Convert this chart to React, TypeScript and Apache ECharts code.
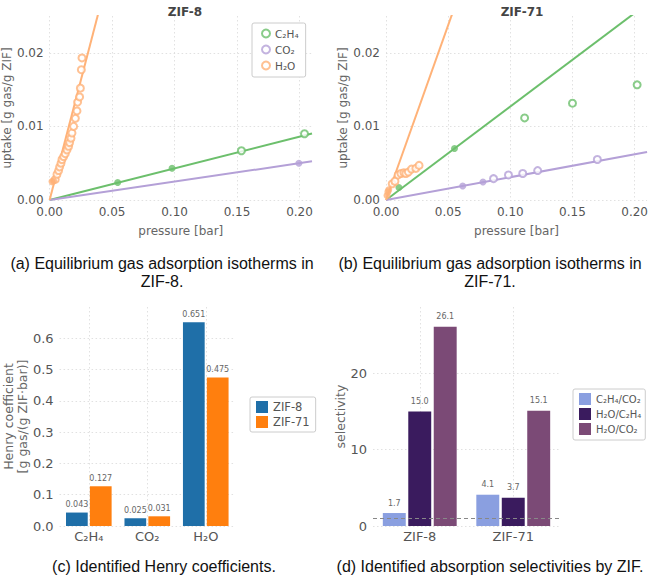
import React, { useEffect, useRef } from "react";
import * as echarts from "echarts";

// ---------- data ----------
const gases = ["C₂H₄", "CO₂", "H₂O"];
const henryZIF8 = [0.043, 0.025, 0.651];
const henryZIF71 = [0.127, 0.031, 0.475];

const pressureMax = 0.21;

// ZIF-8 isotherm points [pressure bar, uptake g/g]
const zif8C2H4Fit = [[0.0545, 0.00237], [0.098, 0.00432]];
const zif8C2H4Other = [[0.1535, 0.00669], [0.204, 0.009]];
const zif8CO2Fit = [[0.1995, 0.005]];
const zif8CO2Other: number[][] = [];
const zif8H2OFit = [[0.0019, 0.0025], [0.0032, 0.0026]];
const zif8H2OOther = [
  [0.0045, 0.0028], [0.0059, 0.0035], [0.0072, 0.004], [0.008, 0.0045],
  [0.0091, 0.005], [0.0099, 0.0055], [0.0112, 0.0059], [0.0125, 0.0063],
  [0.0139, 0.0068], [0.0152, 0.0073], [0.016, 0.0078], [0.0171, 0.0084],
  [0.0179, 0.0091], [0.0192, 0.01], [0.0206, 0.0111], [0.0219, 0.0121],
  [0.0224, 0.0133], [0.024, 0.014], [0.0246, 0.0152], [0.0254, 0.0177],
  [0.0259, 0.0193],
];

// ZIF-71 isotherm points
const zif71C2H4Fit = [[0.0104, 0.0017], [0.0551, 0.007]];
const zif71C2H4Other = [[0.1115, 0.01115], [0.15, 0.01315], [0.202, 0.01565]];
const zif71CO2Fit = [[0.0617, 0.0019], [0.078, 0.00245]];
const zif71CO2Other = [
  [0.0865, 0.0029], [0.0985, 0.0034], [0.11, 0.0036], [0.122, 0.004], [0.17, 0.0055],
];
const zif71H2OFit = [[0.0008, 0.0006], [0.0015, 0.0011], [0.0022, 0.0014]];
const zif71H2OOther = [
  [0.005, 0.0022], [0.0072, 0.00255], [0.0098, 0.0034], [0.012, 0.0036],
  [0.0144, 0.0037], [0.016, 0.0036], [0.018, 0.0038], [0.0205, 0.0042],
  [0.024, 0.0043], [0.0266, 0.0047],
];

const zifs = ["ZIF-8", "ZIF-71"];
const selC2H4CO2 = [1.7, 4.1];
const selH2OC2H4 = [15.0, 3.7];
const selH2OCO2 = [26.1, 15.1];
const selNames = ["C₂H₄/CO₂", "H₂O/C₂H₄", "H₂O/CO₂"];

const pressureTicks = ["0.00", "0.05", "0.10", "0.15", "0.20"];
const uptakeTicks = ["0.00", "0.01", "0.02"];

// ---------- style ----------
const gasColors = ["#6cbf6c", "#b4a0d7", "#ffb278"];
const zifColors = ["#1f6fa8", "#ff7f0e"];
const selColors = ["#8a9fe0", "#3a1b5e", "#7b4a76"];
const FONT = "DejaVu Sans";
const CAPFONT = "16px 'Liberation Sans'";
const gridLine = { type: [1.5, 2.5], color: "#d9d9d9", width: 0.8 };

function isoAxes(gridIndex: number) {
  const x = {
    gridIndex,
    type: "value",
    min: 0,
    max: pressureMax,
    interval: 0.05,
    axisLine: { show: false },
    axisTick: { show: false },
    axisLabel: {
      color: "#555",
      fontSize: 12,
      fontFamily: FONT,
      margin: 6,
      showMaxLabel: false,
      formatter: (v: number) => {
        const i = Math.round(v / 0.05);
        return Math.abs(v - i * 0.05) < 1e-9 ? pressureTicks[i] ?? "" : "";
      },
    },
    splitLine: { show: true, showMaxLine: false, lineStyle: gridLine },
    name: "pressure [bar]",
    nameLocation: "middle",
    nameGap: 25,
    nameTextStyle: { color: "#666", fontSize: 12, fontFamily: FONT },
  };
  const y = {
    gridIndex,
    type: "value",
    min: 0,
    max: 0.025,
    interval: 0.01,
    axisLine: { show: false },
    axisTick: { show: false },
    axisLabel: {
      color: "#555",
      fontSize: 12,
      fontFamily: FONT,
      margin: 6,
      showMaxLabel: false,
      formatter: (v: number) => {
        const i = Math.round(v / 0.01);
        return Math.abs(v - i * 0.01) < 1e-9 ? uptakeTicks[i] ?? "" : "";
      },
    },
    splitLine: { show: true, showMaxLine: false, lineStyle: gridLine },
    name: "uptake [g gas/g ZIF]",
    nameLocation: "middle",
    nameGap: 35,
    nameTextStyle: { color: "#666", fontSize: 12, fontFamily: FONT },
  };
  return { x, y };
}

// hidden helper axis: gridlines at the centre of each category band
function centreGridAxis(gridIndex: number, n: number) {
  const slots: string[] = [];
  for (let i = 0; i <= 2 * n; i++) slots.push(String(i));
  return {
    gridIndex,
    type: "category",
    data: slots,
    boundaryGap: false,
    axisLine: { show: false },
    axisTick: { show: false },
    axisLabel: { show: false },
    splitLine: {
      show: true,
      interval: (idx: number) => idx % 2 === 1,
      lineStyle: gridLine,
    },
  };
}

function isoSeries(
  idx: number,
  henry: number[],
  fit: number[][][],
  other: number[][][]
) {
  const out: any[] = [];
  gases.forEach((g, k) => {
    out.push({
      type: "line",
      name: g + " fit",
      xAxisIndex: idx,
      yAxisIndex: idx,
      data: [[0, 0], [pressureMax, henry[k] * pressureMax]],
      showSymbol: false,
      symbol: "none",
      clip: true,
      lineStyle: { color: gasColors[k], width: 2 },
      z: 2,
    });
    out.push({
      type: "scatter",
      name: g,
      xAxisIndex: idx,
      yAxisIndex: idx,
      data: other[k],
      symbol: "emptyCircle",
      symbolSize: 7,
      itemStyle: { color: gasColors[k], borderColor: gasColors[k], borderWidth: 1.3 },
      z: 3,
    });
    out.push({
      type: "scatter",
      name: g + " used",
      xAxisIndex: idx,
      yAxisIndex: idx,
      data: fit[k],
      symbol: "circle",
      symbolSize: 7,
      itemStyle: { color: gasColors[k] },
      z: 3,
    });
  });
  return out;
}

function caption(x: number, y: number, text: string) {
  return {
    type: "text",
    x,
    y,
    style: {
      text,
      font: CAPFONT,
      fill: "#111",
      textAlign: "center",
      textVerticalAlign: "middle",
      lineHeight: 18,
    },
  };
}

export default function App() {
  const ref = useRef<HTMLDivElement>(null);
  useEffect(() => {
    document.body.style.margin = "0";
    if (!ref.current) return;
    const chart = echarts.init(ref.current, undefined, { renderer: "svg" });

    const a = isoAxes(0);
    const b = isoAxes(1);

    const barDecal = {
      symbol: "circle",
      symbolSize: 0.5,
      color: "rgba(255,255,255,0.18)",
      dashArrayX: [1, 0],
      dashArrayY: [2, 3],
      rotation: 0.6,
    };

    const option: any = {
      animation: false,
      backgroundColor: "#fff",
      textStyle: { fontFamily: FONT },
      title: [
        {
          text: "ZIF-8",
          left: 180,
          top: 1,
          textAlign: "center",
          textStyle: { fontSize: 12, fontWeight: "bold", color: "#444", fontFamily: FONT },
        },
        {
          text: "ZIF-71",
          left: 517,
          top: 1,
          textAlign: "center",
          textStyle: { fontSize: 12, fontWeight: "bold", color: "#444", fontFamily: FONT },
        },
      ],
      grid: [
        { left: 49, top: 16, width: 263, height: 184 },
        { left: 386, top: 16, width: 262, height: 184 },
        { left: 53, top: 307, width: 182, height: 219 },
        { left: 373, top: 307, width: 187, height: 219 },
      ],
      legend: [
        {
          orient: "vertical",
          left: 252,
          top: 23,
          padding: [5, 7, 6, 9],
          itemWidth: 8,
          itemHeight: 8,
          itemGap: 5,
          borderColor: "#ccc",
          borderWidth: 1,
          borderRadius: 2,
          backgroundColor: "#fff",
          textStyle: { color: "#555", fontSize: 10.5, fontFamily: FONT },
          data: gases.map((g, k) => ({
            name: g,
            icon: "emptyCircle",
            itemStyle: { color: gasColors[k], borderColor: gasColors[k], borderWidth: 1.3 },
          })),
          selectedMode: false,
        },
        {
          orient: "vertical",
          left: 250,
          top: 397,
          padding: [4, 6, 4, 6],
          itemWidth: 12,
          itemHeight: 12,
          itemGap: 3,
          borderColor: "#ccc",
          borderWidth: 1,
          borderRadius: 2,
          textStyle: { color: "#555", fontSize: 11.5, fontFamily: FONT },
          data: zifs.map((z) => ({ name: z, icon: "rect" })),
          selectedMode: false,
        },
        {
          orient: "vertical",
          left: 573,
          top: 389,
          padding: [4, 4, 5, 6],
          itemWidth: 12,
          itemHeight: 12,
          itemGap: 3,
          borderColor: "#ccc",
          borderWidth: 1,
          borderRadius: 2,
          textStyle: { color: "#555", fontSize: 10, fontFamily: FONT },
          data: selNames.map((n) => ({ name: n, icon: "rect" })),
          selectedMode: false,
        },
      ],
      xAxis: [
        a.x,
        b.x,
        {
          gridIndex: 2,
          type: "category",
          data: gases,
          axisLine: { show: false },
          axisTick: { show: false },
          axisLabel: { color: "#555", fontSize: 13, fontFamily: FONT, margin: 4 },
          splitLine: { show: false },
        },
        {
          gridIndex: 3,
          type: "category",
          data: zifs,
          axisLine: { show: false },
          axisTick: { show: false },
          axisLabel: { color: "#555", fontSize: 13, fontFamily: FONT, margin: 4 },
          splitLine: { show: false },
        },
        centreGridAxis(2, gases.length),
        centreGridAxis(3, zifs.length),
      ],
      yAxis: [
        a.y,
        b.y,
        {
          gridIndex: 2,
          type: "value",
          min: 0,
          max: 0.7,
          interval: 0.1,
          axisLine: { show: false },
          axisTick: { show: false },
          axisLabel: {
            color: "#555",
            fontSize: 13,
            fontFamily: FONT,
            margin: 6,
            showMaxLabel: false,
            formatter: (v: number) => v.toFixed(1),
          },
          splitLine: { show: true, showMaxLine: false, lineStyle: gridLine },
          name: "Henry coefficient\n[g gas/(g ZIF·bar)]",
          nameLocation: "middle",
          nameGap: 24,
          nameTextStyle: { color: "#666", fontSize: 12.5, lineHeight: 14, fontFamily: FONT },
        },
        {
          gridIndex: 3,
          type: "value",
          min: 0,
          max: 28.7,
          interval: 10,
          axisLine: { show: false },
          axisTick: { show: false },
          axisLabel: {
            color: "#555",
            fontSize: 13,
            fontFamily: FONT,
            margin: 6,
            showMaxLabel: false,
            formatter: (v: number) => (v % 10 === 0 ? String(v) : ""),
          },
          splitLine: { show: true, showMaxLine: false, lineStyle: gridLine },
          name: "selectivity",
          nameLocation: "middle",
          nameGap: 21,
          nameTextStyle: { color: "#666", fontSize: 12.5, fontFamily: FONT },
        },
      ],
      series: [
        ...isoSeries(
          0,
          henryZIF8,
          [zif8C2H4Fit, zif8CO2Fit, zif8H2OFit],
          [zif8C2H4Other, zif8CO2Other, zif8H2OOther]
        ),
        ...isoSeries(
          1,
          henryZIF71,
          [zif71C2H4Fit, zif71CO2Fit, zif71H2OFit],
          [zif71C2H4Other, zif71CO2Other, zif71H2OOther]
        ),
        ...[henryZIF8, henryZIF71].map((vals, k) => ({
          type: "bar",
          name: zifs[k],
          xAxisIndex: 2,
          yAxisIndex: 2,
          data: vals,
          barGap: "10%",
          barCategoryGap: "22%",
          itemStyle: { color: zifColors[k], decal: barDecal },
          label: {
            show: true,
            position: "top",
            distance: 4,
            fontSize: 8,
            color: "#666",
            fontFamily: FONT,
            formatter: (p: any) => Number(p.value).toFixed(3),
          },
        })),
        ...[selC2H4CO2, selH2OC2H4, selH2OCO2].map((vals, k) => ({
          type: "bar",
          name: selNames[k],
          xAxisIndex: 3,
          yAxisIndex: 3,
          data: vals,
          barGap: "11%",
          barCategoryGap: "21%",
          itemStyle: { color: selColors[k], decal: barDecal },
          label: {
            show: true,
            position: "top",
            distance: 6,
            fontSize: 8,
            color: "#666",
            fontFamily: FONT,
            formatter: (p: any) => Number(p.value).toFixed(1),
          },
          markLine:
            k === 2
              ? {
                  silent: true,
                  symbol: "none",
                  label: { show: false },
                  lineStyle: { type: [4, 3], color: "#888", width: 1.2 },
                  data: [{ yAxis: 1 }],
                }
              : undefined,
        })),
      ],
      graphic: [
        caption(162, 272, "(a) Equilibrium gas adsorption isotherms in\nZIF-8."),
        caption(490, 272, "(b) Equilibrium gas adsorption isotherms in\nZIF-71."),
        caption(164, 566, "(c) Identified Henry coefficients."),
        caption(490, 566, "(d) Identified absorption selectivities by ZIF."),
      ],
    };

    chart.setOption(option);
    return () => chart.dispose();
  }, []);
  return <div ref={ref} style={{ width: 651, height: 582 }} />;
}
